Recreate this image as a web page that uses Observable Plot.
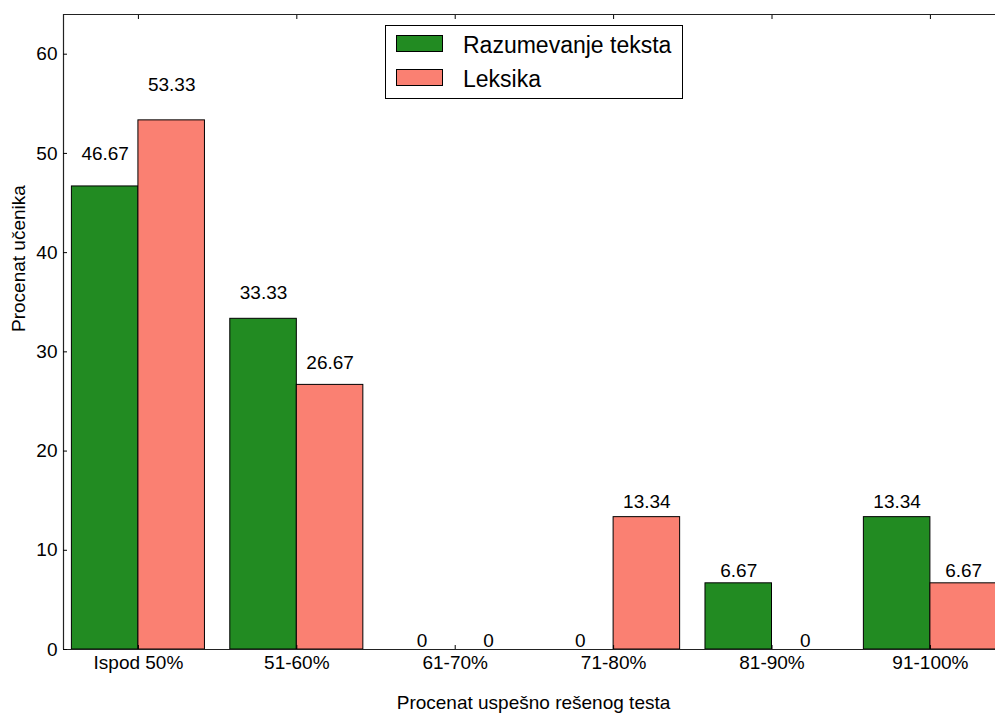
<!DOCTYPE html>
<html>
<head>
<meta charset="utf-8">
<script src="https://cdn.jsdelivr.net/npm/d3@7"></script>
<script src="https://cdn.jsdelivr.net/npm/@observablehq/plot@0.6"></script>
<style>
  html, body { margin: 0; padding: 0; background: #fff; }
  #wrap { position: relative; width: 995px; height: 715px; overflow: hidden; font-family: "Liberation Sans", Arial, sans-serif; }
  #legend { position: absolute; left: 385px; top: 25px; width: 296px; height: 72px; border: 1px solid #000; background: #fff; }
  .sw { position: absolute; left: 10px; width: 45px; height: 15px; border: 1px solid #000; }
  .lt { position: absolute; left: 77px; font-size: 23px; line-height: 23px; color: #000; white-space: nowrap; }
</style>
</head>
<body>
<div id="wrap"></div>
<script>
const categories = ["Ispod 50%", "51-60%", "61-70%", "71-80%", "81-90%", "91-100%"];
const razumevanje = [46.67, 33.33, 0, 0, 6.67, 13.34];
const leksika = [53.33, 26.67, 0, 13.34, 0, 6.67];
const seriesNames = ["Razumevanje teksta", "Leksika"];
const seriesColors = ["#228B22", "#FA8072"];
const yTicks = [0, 10, 20, 30, 40, 50, 60];

const W = 0.42;
const xMin = -0.473, xMax = 5.411;
const idx = categories.map((_, i) => i);

const rows = [];
categories.forEach((c, i) => {
  rows.push({i, series: seriesNames[0], value: razumevanje[i], x1: i - W, x2: i, label: String(razumevanje[i])});
  rows.push({i, series: seriesNames[1], value: leksika[i], x1: i, x2: i + W, label: String(leksika[i])});
});

const plot = Plot.plot({
  width: 995,
  height: 715,
  marginLeft: 63,
  marginRight: 0,
  marginTop: 14,
  marginBottom: 66,
  style: {fontFamily: '"Liberation Sans", Arial, sans-serif', fontSize: "19px", color: "#000", background: "#fff"},
  x: {type: "linear", domain: [xMin, xMax]},
  y: {domain: [0, 64]},
  color: {domain: seriesNames, range: seriesColors},
  marks: [
    Plot.rectY(rows, {x1: "x1", x2: "x2", y1: 0, y2: "value", fill: "series", stroke: "#000", strokeWidth: 1}),
    Plot.text(rows, {x: d => (d.x1 + d.x2) / 2, y: d => d.value * 1.05, text: "label", lineAnchor: "bottom", dy: -3, fontSize: 19, fill: "#000"}),
    Plot.ruleY([0], {stroke: "#222", strokeWidth: 1.2}),
    Plot.ruleY([64], {stroke: "#222", strokeWidth: 1.2}),
    Plot.ruleX([xMin], {stroke: "#222", strokeWidth: 1.2}),
    Plot.axisY({ticks: yTicks, tickSize: 0, tickPadding: 6, label: null, fontSize: 19}),
    Plot.axisY({ticks: yTicks, tickSize: -4, tickFormat: () => "", label: null}),
    Plot.axisX({anchor: "bottom", ticks: idx, tickSize: 0, tickPadding: 6, tickFormat: i => categories[i], label: null, fontSize: 19}),
    Plot.axisX({anchor: "bottom", ticks: idx, tickSize: -4, tickFormat: () => "", label: null}),
    Plot.axisX({anchor: "top", ticks: idx, tickSize: -4, tickFormat: () => "", label: null}),
    Plot.text(["Procenat uspešno rešenog testa"], {frameAnchor: "bottom", text: d => d, dy: 53, dx: 4, lineAnchor: "middle", fontSize: 19, fill: "#000"}),
    Plot.text(["Procenat učenika"], {frameAnchor: "left", text: d => d, dx: -45, rotate: -90, lineAnchor: "middle", fontSize: 19, fill: "#000"})
  ]
});

const wrap = document.getElementById("wrap");
wrap.appendChild(plot);

const legend = document.createElement("div");
legend.id = "legend";
seriesNames.forEach((name, k) => {
  const sw = document.createElement("div");
  sw.className = "sw";
  sw.style.top = (k === 0 ? 9 : 43) + "px";
  sw.style.background = seriesColors[k];
  legend.appendChild(sw);
  const t = document.createElement("div");
  t.className = "lt";
  t.style.top = (k === 0 ? 8 : 42) + "px";
  t.textContent = name;
  legend.appendChild(t);
});
wrap.appendChild(legend);
</script>
</body>
</html>
